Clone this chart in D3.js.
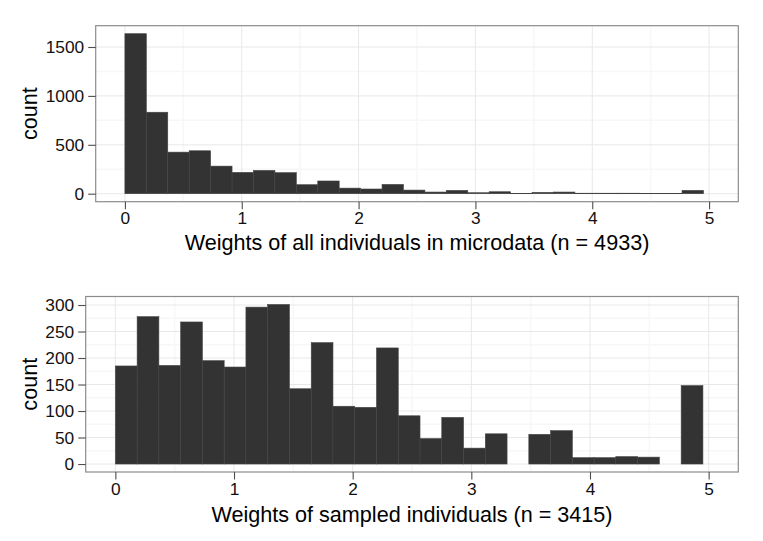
<!DOCTYPE html>
<html>
<head>
<meta charset="utf-8">
<script src="https://cdn.jsdelivr.net/npm/d3@7"></script>
<style>
  body { margin: 0; background: #fff; }
  text { font-family: "Liberation Sans", Arial, sans-serif; }
</style>
</head>
<body>
<div id="chart"></div>
<script>
var svgWidth = 763;
var svgHeight = 541;

// histogram bins (27 bins of equal width starting at 0)
var binWidth = 0.1834;
var allCounts = [1636, 833, 425, 439, 282, 218, 238, 215, 92, 130, 57, 48, 95, 37,
  17, 34, 10, 20, 4, 14, 17, 5, 5, 5, 4, 2, 34];
var sampledCounts = [185, 278, 186, 268, 195, 183, 296, 301, 142, 229, 109, 107, 219, 91,
  48, 88, 30, 57, 0, 56, 63, 12, 12, 14, 13, 0, 148];

var xTicks = [0, 1, 2, 3, 4, 5];
var xMinor = [0.5, 1.5, 2.5, 3.5, 4.5];
var allYTicks = [0, 500, 1000, 1500];
var allYMinor = [250, 750, 1250];
var sampledYTicks = [0, 50, 100, 150, 200, 250, 300];
var sampledYMinor = [25, 75, 125, 175, 225, 275];

var titles = ["Weights of all individuals in microdata (n = 4933)",
  "Weights of sampled individuals (n = 3415)"];

var svg = d3.select("#chart")
  .append("svg")
  .attr("width", svgWidth)
  .attr("height", svgHeight);

function drawPanel(opts) {
  var width = opts.right - opts.left;
  var height = opts.bottom - opts.top;
  var maxCount = d3.max(opts.counts);

  var x = d3.scaleLinear().domain([-0.25, 5.25]).range([0, width]);
  var y = d3.scaleLinear().domain([-0.05 * maxCount, 1.05 * maxCount]).range([height, 0]);

  var g = svg.append("g")
    .attr("transform", `translate(${opts.left}, ${opts.top})`);

  g.append("rect")
    .attr("width", width)
    .attr("height", height)
    .attr("fill", "#fff");

  // minor grid
  g.selectAll(".xminor").data(xMinor).enter().append("line")
    .attr("x1", d => x(d)).attr("x2", d => x(d))
    .attr("y1", 0).attr("y2", height)
    .attr("stroke", "#f7f7f7").attr("stroke-width", 1.5);
  g.selectAll(".yminor").data(opts.yMinor).enter().append("line")
    .attr("x1", 0).attr("x2", width)
    .attr("y1", d => y(d)).attr("y2", d => y(d))
    .attr("stroke", "#f7f7f7").attr("stroke-width", 1.5);

  // major grid
  g.selectAll(".xmajor").data(xTicks).enter().append("line")
    .attr("x1", d => x(d)).attr("x2", d => x(d))
    .attr("y1", 0).attr("y2", height)
    .attr("stroke", "#e8e8e8").attr("stroke-width", 1);
  g.selectAll(".ymajor").data(opts.yTicks).enter().append("line")
    .attr("x1", 0).attr("x2", width)
    .attr("y1", d => y(d)).attr("y2", d => y(d))
    .attr("stroke", "#e8e8e8").attr("stroke-width", 1);

  // bars
  g.selectAll(".bar").data(opts.counts).enter().append("rect")
    .attr("x", (d, i) => x(i * binWidth))
    .attr("width", x(binWidth) - x(0))
    .attr("y", d => y(d))
    .attr("height", d => y(0) - y(d))
    .attr("fill", "#333333")
    .attr("stroke", d => d > 0 ? "#444" : "none")
    .attr("stroke-width", 0.6);

  // border
  g.append("rect")
    .attr("width", width)
    .attr("height", height)
    .attr("fill", "none")
    .attr("stroke", "#8c8c8c")
    .attr("stroke-width", 1.2);

  // axes
  var bottomAxis = d3.axisBottom(x).tickValues(xTicks).tickFormat(d3.format("d"))
    .tickSize(7.5).tickPadding(3);
  var leftAxis = d3.axisLeft(y).tickValues(opts.yTicks).tickFormat(d3.format("d"))
    .tickSize(7.5).tickPadding(4);

  var xa = g.append("g")
    .attr("transform", `translate(0, ${height})`)
    .call(bottomAxis);
  var ya = g.append("g").call(leftAxis);

  [xa, ya].forEach(a => {
    a.select(".domain").remove();
    a.selectAll("line").attr("stroke", "#4d4d4d").attr("stroke-width", 1.1);
    a.selectAll("text")
      .attr("fill", "#111")
      .attr("font-size", "17.3px")
      .style("font-family", "'Liberation Sans', Arial, sans-serif");
  });

  g.append("text")
    .attr("x", width / 2)
    .attr("y", height + opts.titleOffset)
    .attr("text-anchor", "middle")
    .attr("font-size", "21.6px")
    .attr("fill", "#000")
    .text(opts.title);

  g.append("text")
    .attr("transform", `translate(${36.7 - opts.left}, ${height / 2}) rotate(-90)`)
    .attr("text-anchor", "middle")
    .attr("font-size", "21.6px")
    .attr("fill", "#000")
    .text("count");
}

drawPanel({
  left: 95.7, right: 738.3, top: 25.7, bottom: 201.7,
  counts: allCounts, yTicks: allYTicks, yMinor: allYMinor,
  title: titles[0], titleOffset: 48
});

drawPanel({
  left: 85.7, right: 738.3, top: 296.5, bottom: 472,
  counts: sampledCounts, yTicks: sampledYTicks, yMinor: sampledYMinor,
  title: titles[1], titleOffset: 49.7
});
</script>
</body>
</html>
